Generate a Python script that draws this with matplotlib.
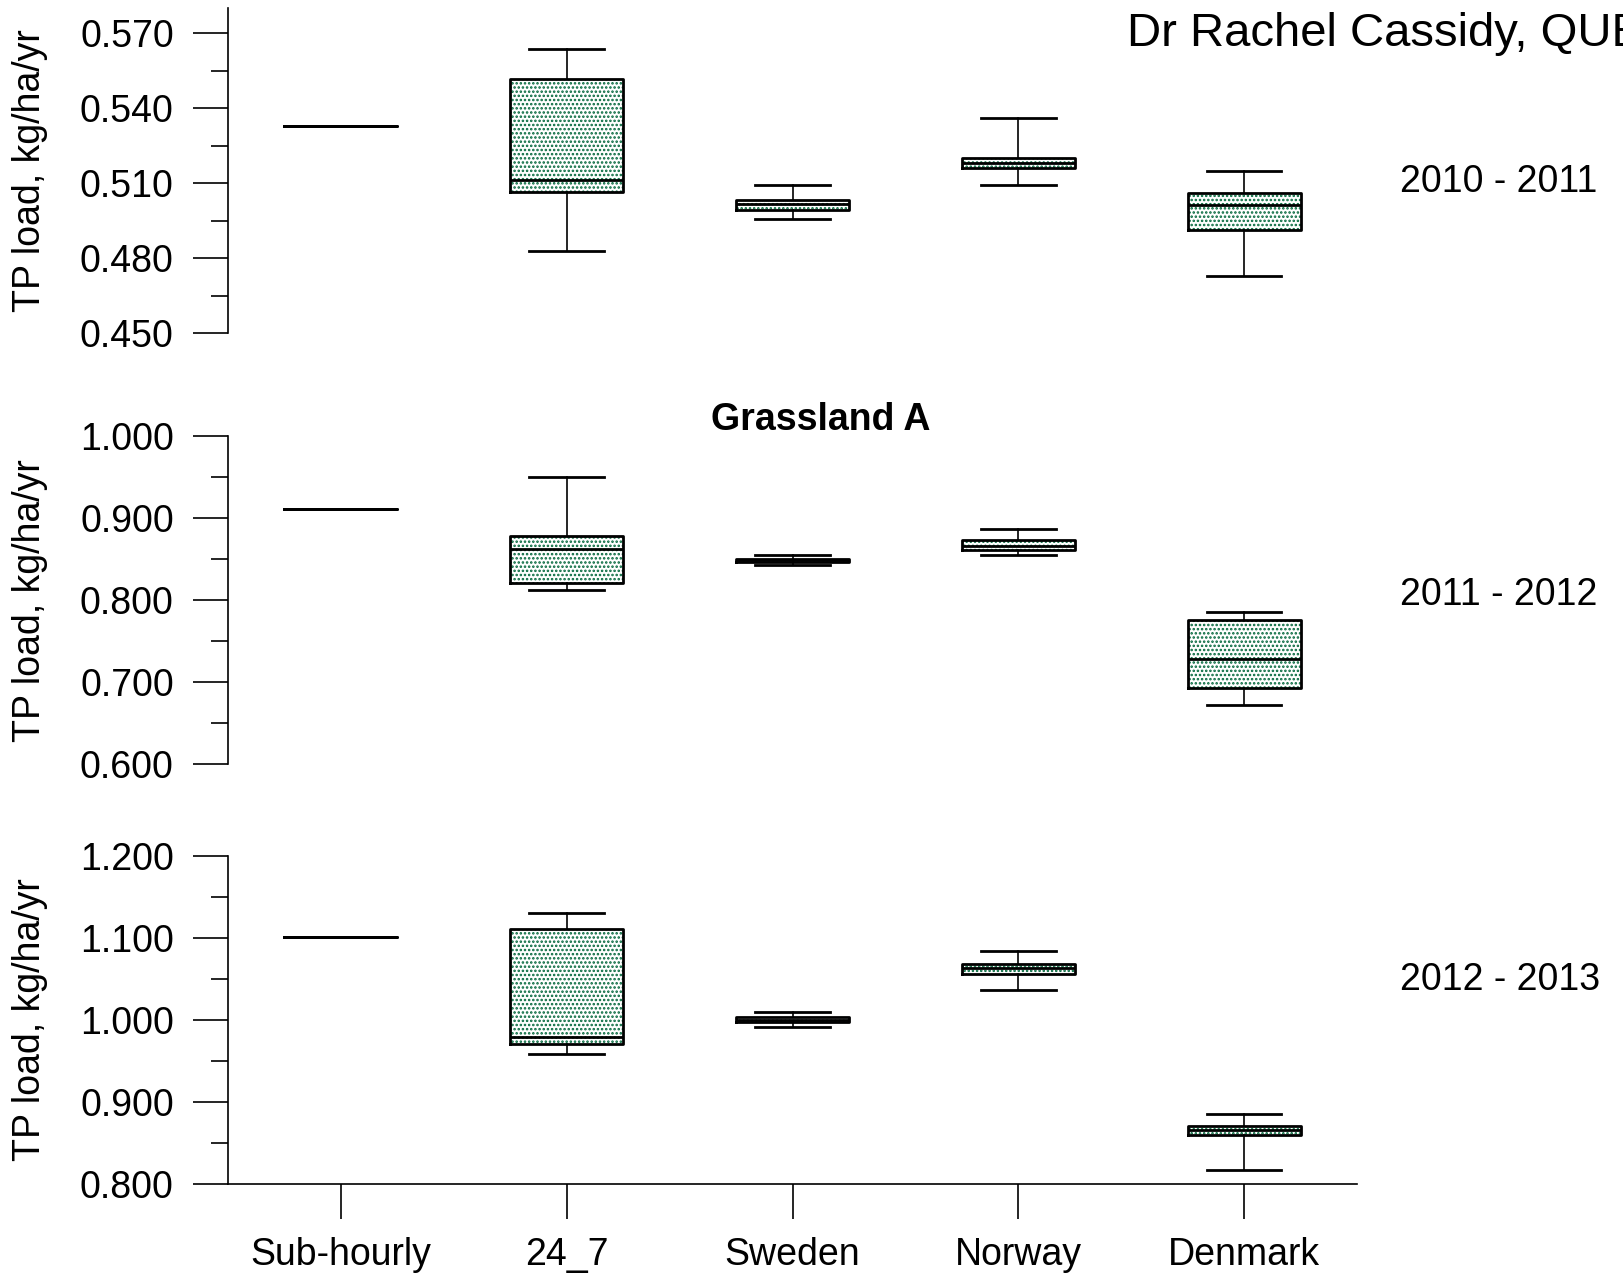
import numpy as np
import matplotlib.pyplot as plt
from matplotlib.ticker import MultipleLocator, FormatStrFormatter

plt.rcParams['font.family'] = ['Liberation Sans', 'DejaVu Sans']
plt.rcParams['hatch.linewidth'] = 1.2

sites = ["Sub-hourly", "24_7", "Sweden", "Norway", "Denmark"]
years = ["2010 - 2011", "2011 - 2012", "2012 - 2013"]

# TP load, kg/ha/yr : whisker low, Q1, median, Q3, whisker high
lo_1011 = [0.533, 0.483, 0.4956, 0.5091, 0.4728]
q1_1011 = [0.533, 0.5063, 0.4993, 0.5159, 0.4913]
med_1011 = [0.533, 0.5113, 0.5015, 0.5179, 0.5012]
q3_1011 = [0.533, 0.5517, 0.5033, 0.5199, 0.5059]
hi_1011 = [0.533, 0.5637, 0.5093, 0.5359, 0.5149]

lo_1112 = [0.911, 0.812, 0.8433, 0.8547, 0.6728]
q1_1112 = [0.911, 0.821, 0.8466, 0.8612, 0.6935]
med_1112 = [0.911, 0.862, 0.8486, 0.8657, 0.7281]
q3_1112 = [0.911, 0.878, 0.8503, 0.873, 0.7766]
hi_1112 = [0.911, 0.950, 0.8547, 0.8873, 0.7859]

lo_1213 = [1.101, 0.959, 0.9919, 1.0365, 0.8174]
q1_1213 = [1.101, 0.9704, 0.9976, 1.0556, 0.8604]
med_1213 = [1.101, 0.9797, 1.0004, 1.0633, 0.8661]
q3_1213 = [1.101, 1.1107, 1.0032, 1.0686, 0.8706]
hi_1213 = [1.101, 1.1306, 1.0097, 1.0836, 0.8852]

panels = [
    (lo_1011, q1_1011, med_1011, q3_1011, hi_1011),
    (lo_1112, q1_1112, med_1112, q3_1112, hi_1112),
    (lo_1213, q1_1213, med_1213, q3_1213, hi_1213),
]
ylims = [(0.45, 0.58), (0.6, 1.0), (0.8, 1.2)]
major_steps = [0.03, 0.1, 0.1]
minor_steps = [0.015, 0.05, 0.05]

rects = [
    [0.1404, 0.7388, 0.6952, 0.2549],
    [0.1404, 0.4005, 0.6952, 0.2573],
    [0.1404, 0.0711, 0.6952, 0.2577],
]
year_y = [0.8575, 0.5335, 0.2315]

fig = plt.figure(figsize=(16.24, 12.75), dpi=100)
pos = np.arange(1, len(sites) + 1)

for i, (data, rect) in enumerate(zip(panels, rects)):
    ax = fig.add_axes(rect)
    lo, q1, med, q3, hi = data
    stats = [dict(whislo=lo[j], q1=q1[j], med=med[j], q3=q3[j], whishi=hi[j], fliers=[])
             for j in range(len(sites))]

    # dotted fill
    ax.bxp(stats, positions=pos, widths=0.5, patch_artist=True, showfliers=False,
           showcaps=False, manage_ticks=False,
           boxprops=dict(facecolor='white', edgecolor='#00663a', hatch='....', linewidth=0),
           whiskerprops=dict(linewidth=0), medianprops=dict(linewidth=0))
    # black outlines
    ax.bxp(stats, positions=pos, widths=0.5, capwidths=0.33, patch_artist=False,
           showfliers=False, manage_ticks=False,
           boxprops=dict(color='black', linewidth=2.0),
           whiskerprops=dict(color='black', linewidth=1.2),
           capprops=dict(color='black', linewidth=2.0),
           medianprops=dict(color='black', linewidth=2.0))

    ax.set_xlim(0.5, 5.5)
    ax.set_ylim(*ylims[i])
    ax.yaxis.set_major_locator(MultipleLocator(major_steps[i]))
    ax.yaxis.set_minor_locator(MultipleLocator(minor_steps[i]))
    ax.yaxis.set_major_formatter(FormatStrFormatter('%.3f'))
    ax.tick_params(axis='y', which='major', direction='out', length=25, width=1.2,
                   labelsize=27, pad=14)
    ax.tick_params(axis='y', which='minor', direction='out', length=12.5, width=1.2)

    ax.spines['top'].set_visible(False)
    ax.spines['right'].set_visible(False)
    ax.spines['left'].set_linewidth(1.2)
    ax.patch.set_alpha(0)

    if i < 2:
        ax.spines['bottom'].set_visible(False)
        ax.tick_params(axis='x', bottom=False, labelbottom=False)
    else:
        ax.spines['bottom'].set_linewidth(1.2)
        ax.set_xticks(pos)
        ax.set_xticklabels(sites)
        ax.tick_params(axis='x', direction='out', length=25, width=1.2, labelsize=27, pad=13)

    ax.set_ylabel('TP load, kg/ha/yr', fontsize=27)
    ax.yaxis.set_label_coords(-0.159, 0.5)

    fig.text(0.862, year_y[i], years[i], fontsize=27, ha='left', va='center')

fig.text(821 / 1624, 1 - 420 / 1275, 'Grassland A', fontsize=27, fontweight='bold',
         ha='center', va='center')
fig.text(1127 / 1624, 1 - 34 / 1275, 'Dr Rachel Cassidy, QUB', fontsize=34,
         ha='left', va='center')

fig.savefig('out.png', dpi=100)
